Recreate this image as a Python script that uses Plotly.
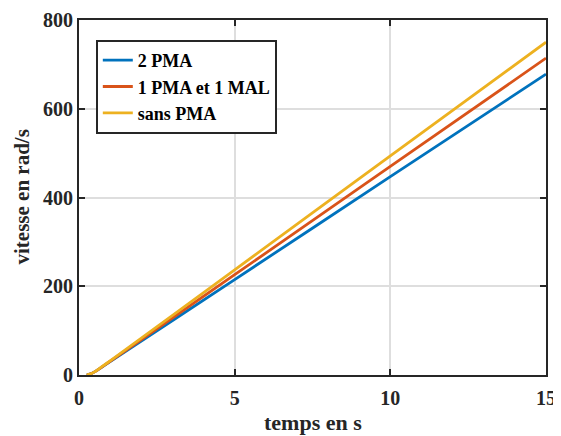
import plotly.graph_objects as go

t = [0.25, 0.35, 0.5, 0.7, 1, 5, 10, 15]
v_2pma = [0, 2, 7, 16, 30, 215, 447, 678]
v_1pma_1mal = [0, 2, 7, 16, 31, 226, 470, 714]
v_sans_pma = [0, 2, 7, 17, 32, 237, 494, 750]

names = ["2 PMA", "1 PMA et 1 MAL", "sans PMA"]
colors = ["#0072BD", "#D95319", "#EDB120"]
series = [v_2pma, v_1pma_1mal, v_sans_pma]

fig = go.Figure()
for n, c, s in zip(names, colors, series):
    fig.add_trace(go.Scatter(x=t, y=s, mode="lines", name=n,
                             line=dict(color=c, width=2.8, shape="spline", smoothing=0.6)))

font = "Liberation Serif, Times New Roman, serif"
axis_common = dict(
    showgrid=True, gridcolor="#DEDEDE", gridwidth=2,
    showline=True, linecolor="#262626", linewidth=2, mirror="ticks",
    ticks="inside", ticklen=6, tickwidth=1.5, tickcolor="#262626",
    zeroline=False, automargin=False,
    tickfont=dict(family=font, size=20, color="#262626", weight="bold"),
)
# page body has an 8px margin; figure is sized so it ends at the window edge
fig.update_layout(
    width=553, height=428,
    margin=dict(l=71, r=15, t=12, b=61),
    plot_bgcolor="white", paper_bgcolor="white",
    font=dict(family=font, color="#262626"),
    xaxis=dict(range=[0, 15], tickvals=[0, 5, 10, 15], ticklabelstandoff=4, **axis_common),
    yaxis=dict(range=[0, 800], tickvals=[0, 200, 400, 600, 800], **axis_common),
    legend=dict(x=0.036, y=0.944, xanchor="left", yanchor="top",
                bgcolor="white", bordercolor="#262626", borderwidth=2,
                font=dict(family=font, size=18, color="black", weight="bold"),
                tracegroupgap=0, itemwidth=30),
)
fig.add_annotation(text="temps en s", xref="paper", yref="paper", x=0.5, y=0,
                   xanchor="center", yanchor="middle", yshift=-47, showarrow=False,
                   font=dict(family=font, size=22, weight="bold", color="#262626"))
fig.add_annotation(text="vitesse en rad/s", xref="paper", yref="paper", x=0, y=0.5,
                   xanchor="center", yanchor="middle", xshift=-58, textangle=-90, showarrow=False,
                   font=dict(family=font, size=21, weight="bold", color="#262626"))

fig.write_html("out.html")
